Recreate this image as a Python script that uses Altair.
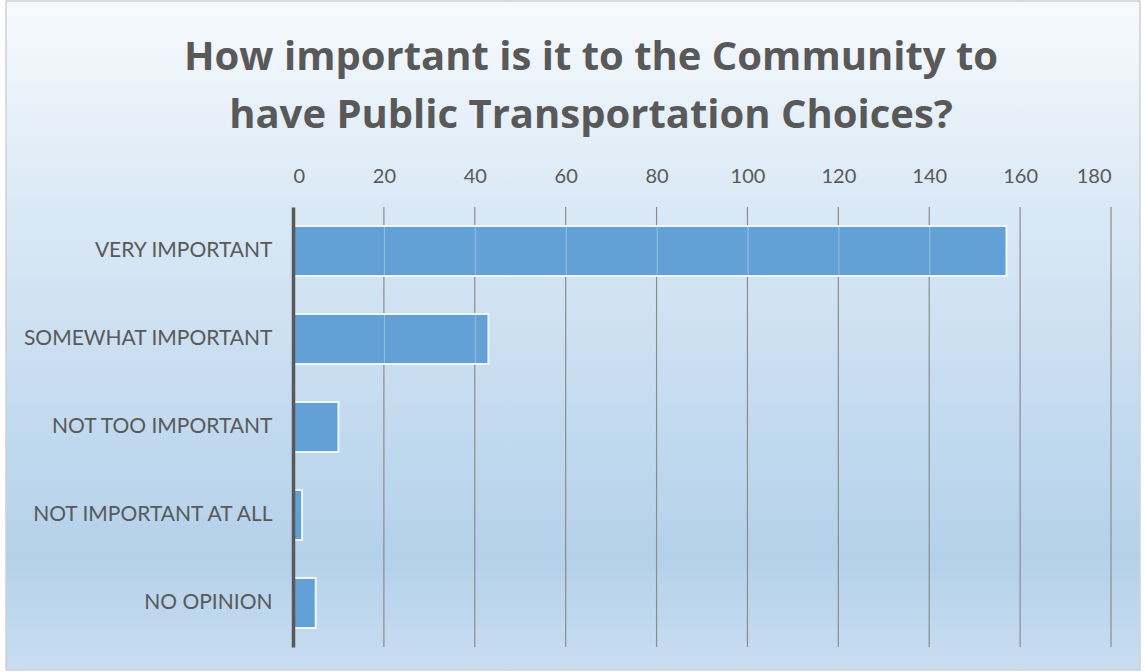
import altair as alt
import pandas as pd

categories = ["VERY IMPORTANT", "SOMEWHAT IMPORTANT", "NOT TOO IMPORTANT",
              "NOT IMPORTANT AT ALL", "NO OPINION"]
counts = [157, 43, 10, 2, 5]
tick_values = [0, 20, 40, 60, 80, 100, 120, 140, 160, 180]
title_lines = ["How important is it to the Community to",
               "have Public Transportation Choices?"]

df = pd.DataFrame({"category": categories, "count": counts})
grid_df = pd.DataFrame({"tick": tick_values[1:]})
# faint gridline segments visible across the bars
over_rows = [{"category": c, "tick": t, "tick2": t + 0.25}
             for c, n in zip(categories, counts) for t in tick_values[1:] if t < n]
over_df = pd.DataFrame(over_rows)

W, H = 818, 440
FONT = "Lato"
GRAY = "#595959"

xscale = alt.Scale(domain=[0, 180], nice=False, zero=True)
yscale = alt.Scale(domain=categories, paddingInner=0.43, paddingOuter=0.215)

background = alt.Chart(alt.Data(values=[{"a": 1}])).mark_rect(
    fill=alt.Gradient(
        gradient="linear", x1=0, y1=0, x2=0, y2=1,
        stops=[
            alt.GradientStop(color="#f7fafd", offset=0),
            alt.GradientStop(color="#dbe9f6", offset=0.3),
            alt.GradientStop(color="#b4d1ea", offset=0.83),
            alt.GradientStop(color="#c9ddf1", offset=1),
        ],
    ),
    stroke="#d0d0d0", strokeWidth=1.5,
).encode(
    x=alt.value(-287), x2=alt.value(W + 29),
    y=alt.value(-206), y2=alt.value(H + 23),
)

title = alt.Chart(alt.Data(values=[{"a": 1}])).mark_text(
    text=title_lines, font="Open Sans", fontSize=40, fontWeight="bold",
    color=GRAY, align="center", baseline="alphabetic", lineHeight=58,
).encode(x=alt.value(298), y=alt.value(-137))

grid = alt.Chart(grid_df).mark_rule(color="#8c8c8c", strokeWidth=1.2).encode(
    x=alt.X("tick:Q", scale=xscale)
)

bars = alt.Chart(df).mark_bar(
    color="#62a0d6", stroke="#eef5fb", strokeWidth=2
).encode(
    x=alt.X("count:Q", scale=xscale, title=None,
            axis=alt.Axis(orient="top", values=tick_values, grid=False,
                          domain=False, ticks=False, labelPadding=21,
                          labelFontSize=20, labelFont=FONT, labelColor=GRAY,
                          zindex=1)),
    y=alt.Y("category:N", sort=categories, title=None, scale=yscale,
            axis=alt.Axis(domain=True, domainColor=GRAY, domainWidth=3.5,
                          ticks=False, grid=False, labelPadding=21,
                          labelLimit=300,
                          labelFontSize=21, labelFont=FONT, labelColor=GRAY,
                          zindex=1)),
)

over = alt.Chart(over_df).mark_bar(color="#ffffff", opacity=0.3).encode(
    x=alt.X("tick:Q", scale=xscale),
    x2="tick2:Q",
    y=alt.Y("category:N", sort=categories, scale=yscale),
)

chart = alt.layer(background, grid, bars, over, title).properties(
    width=W, height=H,
    autosize=alt.AutoSizeParams(type="none"),
    padding={"left": 293, "top": 207, "right": 34, "bottom": 25},
).configure_view(stroke=None).configure(background="white")

chart.save("out.html", embed_options={"renderer": "svg", "actions": False})
